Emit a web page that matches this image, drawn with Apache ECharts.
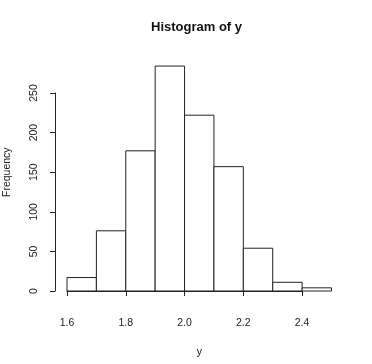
<!DOCTYPE html>
<html>
<head>
<meta charset="utf-8">
<script src="https://cdn.jsdelivr.net/npm/echarts@6/dist/echarts.min.js"></script>
<style>html,body{margin:0;padding:0;background:#fff;}#c{width:372px;height:364px;}</style>
</head>
<body>
<div id="c"></div>
<script>
var binStarts = [1.6, 1.7, 1.8, 1.9, 2.0, 2.1, 2.2, 2.3, 2.4];
var binEnds   = [1.7, 1.8, 1.9, 2.0, 2.1, 2.2, 2.3, 2.4, 2.5];
var counts    = [17, 76, 177, 284, 222, 157, 54, 11, 4];
var xTicks = [1.6, 1.8, 2.0, 2.2, 2.4];
var yTicks = [0, 50, 100, 150, 200, 250];

var FONT = '"Liberation Sans", Arial, sans-serif';
var TXT = '#222';
var data = binStarts.map(function (s, i) { return [s, binEnds[i], counts[i]]; });

var chart = echarts.init(document.getElementById('c'), null, {renderer: 'canvas'});
chart.setOption({
  animation: false,
  backgroundColor: '#fff',
  title: {
    text: 'Histogram of y',
    left: 151, top: 21, padding: 0,
    textStyle: {fontFamily: FONT, fontSize: 13, fontWeight: 'bold', color: '#111'}
  },
  grid: [
    {left: 67, top: 53.4, width: 264.5, height: 237.6, containLabel: false, outerBoundsMode: 'none'},
    {left: 67, top: 93, width: 235, height: 198, containLabel: false, outerBoundsMode: 'none'}
  ],
  xAxis: [
    {type: 'value', gridIndex: 0, min: 1.6, max: 2.5,
     name: 'y', nameLocation: 'middle', nameGap: 56,
     nameTextStyle: {fontFamily: FONT, fontSize: 10.5, color: TXT},
     axisLine: {show: false}, axisTick: {show: false}, axisLabel: {show: false}, splitLine: {show: false}},
    {type: 'value', gridIndex: 1, min: xTicks[0], max: xTicks[xTicks.length - 1], interval: 0.2,
     position: 'bottom', offset: 10.5,
     axisLine: {show: true, lineStyle: {color: '#222', width: 1}},
     axisTick: {show: true, length: 5, lineStyle: {color: '#222'}},
     axisLabel: {show: true, margin: 16, fontFamily: FONT, fontSize: 10.5, color: TXT,
                 formatter: function (v) { return v.toFixed(1); }},
     splitLine: {show: false}}
  ],
  yAxis: [
    {type: 'value', gridIndex: 0, min: 0, max: 300,
     name: 'Frequency', nameLocation: 'middle', nameGap: 54,
     nameTextStyle: {fontFamily: FONT, fontSize: 10.5, color: TXT},
     axisLine: {show: false}, axisTick: {show: false}, axisLabel: {show: false}, splitLine: {show: false}},
    {type: 'value', gridIndex: 1, min: yTicks[0], max: yTicks[yTicks.length - 1], interval: 50,
     position: 'left', offset: 12,
     axisLine: {show: true, lineStyle: {color: '#222', width: 1}},
     axisTick: {show: true, length: 5, lineStyle: {color: '#222'}},
     axisLabel: {show: true, rotate: 90, margin: 15, fontFamily: FONT, fontSize: 10.5, color: TXT},
     splitLine: {show: false}}
  ],
  series: [{
    type: 'custom',
    xAxisIndex: 0, yAxisIndex: 0,
    data: data,
    renderItem: function (params, api) {
      var p0 = api.coord([api.value(0), 0]);
      var p1 = api.coord([api.value(1), api.value(2)]);
      return {
        type: 'rect',
        shape: {x: p0[0], y: p1[1], width: p1[0] - p0[0], height: p0[1] - p1[1]},
        style: {fill: '#fff', stroke: '#222', lineWidth: 1}
      };
    }
  }]
});
</script>
</body>
</html>
